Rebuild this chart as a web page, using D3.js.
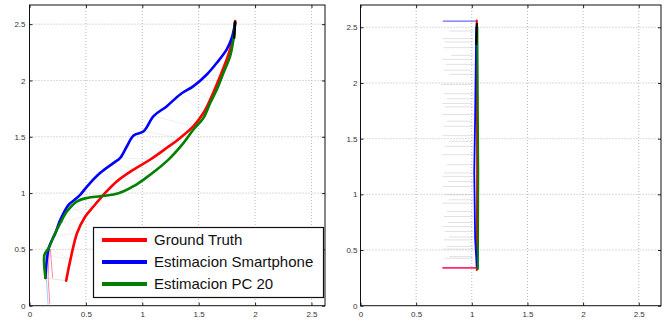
<!DOCTYPE html>
<html><head><meta charset="utf-8">
<script src="https://cdn.jsdelivr.net/npm/d3@7/dist/d3.min.js"></script>
<style>
body{margin:0;background:#fff;}
svg{display:block;font-family:"Liberation Sans",Arial,sans-serif;}
</style></head>
<body>
<svg id="c" width="672" height="322"></svg>
<script>
// ---- data ----
const tickValues = [0, 0.5, 1, 1.5, 2, 2.5];
const tickLabels = ["0", "0.5", "1", "1.5", "2", "2.5"];
const legendLabels = ["Ground Truth", "Estimacion Smartphone", "Estimacion PC 20"];
const seriesColors = ["#ff0000", "#0000ff", "#008000"];

// Left panel trajectories [x, y]
const groundTruth = [[0.325,0.222],[0.363,0.409],[0.422,0.646],[0.496,0.794],[0.569,0.883],[0.658,0.987],[0.776,1.105],[0.923,1.209],[1.071,1.298],[1.218,1.402],[1.336,1.49],[1.454,1.594],[1.543,1.713],[1.602,1.83],[1.69,2.038],[1.764,2.231],[1.808,2.394],[1.823,2.527]];
const smartphone = [[0.142,0.246],[0.171,0.513],[0.23,0.646],[0.274,0.764],[0.348,0.898],[0.40,0.94],[0.451,0.987],[0.525,1.076],[0.628,1.18],[0.746,1.268],[0.805,1.313],[0.864,1.416],[0.923,1.511],[1.012,1.549],[1.1,1.683],[1.218,1.772],[1.336,1.876],[1.454,1.95],[1.572,2.053],[1.661,2.157],[1.749,2.276],[1.794,2.379],[1.823,2.513]];
const pc20 = [[0.142,0.246],[0.133,0.453],[0.171,0.513],[0.215,0.616],[0.274,0.735],[0.333,0.838],[0.422,0.927],[0.51,0.957],[0.628,0.972],[0.746,0.987],[0.835,1.016],[0.923,1.061],[1.012,1.12],[1.13,1.209],[1.248,1.313],[1.366,1.446],[1.454,1.564],[1.543,1.668],[1.602,1.8],[1.661,1.92],[1.72,2.068],[1.779,2.216],[1.808,2.364],[1.823,2.513]];
const gtThinA = [[0.18,0.02],[0.165,0.25],[0.175,0.5]];
const gtThinB = [[0.205,0.25],[0.185,0.5]];
const spThin = [[0.165,0.006],[0.15,0.23]];
const blackEnd = [[1.815,2.38],[1.823,2.52]];

// Right panel
const rightGTBase = [[0.74,0.34],[1.045,0.34]];
const rightGT = [[1.045,0.32],[1.048,1.2],[1.045,2.56]];
const rightSPTop = [[0.743,2.556],[1.04,2.556]];
const rightSP = [[1.04,2.5],[1.03,1.7],[1.022,1.2],[1.03,0.6],[1.045,0.35]];
const rightPC = [[1.055,0.33],[1.058,1.2],[1.05,2.5]];
const rightBlack = [[1.04,2.35],[1.045,2.53]];
const rightHorizY = [2.466,2.398,2.368,2.317,2.248,2.212,2.167,2.115,2.077,1.987,1.903,1.858,1.816,1.786,1.716,1.656,1.611,1.527,1.476,1.431,1.356,1.266,1.192,1.161,1.116,1.071,0.996,0.951,0.921,0.846,0.801,0.747,0.711,0.666,0.616,0.591,0.531,0.508,0.441,0.426];
const rightHorizX0 = [0.80,0.74,0.76,0.75,0.82,0.74,0.77,0.75,0.80,0.73,0.75,0.78,0.74,0.76,0.74,0.78,0.75,0.74,0.80,0.76,0.74,0.78,0.75,0.74,0.79,0.74,0.76,0.80,0.74,0.78,0.75,0.79,0.74,0.76,0.80,0.75,0.78,0.74,0.80,0.76];
const rightHorizX1 = [1.02,1.01,1.00,1.02,1.01,1.00,1.02,0.99,1.01,1.00,1.02,1.01,1.00,1.01,1.02,1.00,1.01,1.02,1.00,1.01,1.02,1.00,1.01,1.00,1.02,1.01,1.00,1.02,1.01,1.00,1.02,1.01,1.00,1.01,1.02,1.00,1.01,1.02,1.00,1.01];

// ---- drawing ----
const svg = d3.select("#c");

function panel(x0, x1, y0, y1, xmax, ymax, ylabelRight) {
  const g = svg.append("g");
  const x = d3.scaleLinear().domain([0, xmax]).range([x0, x1]);
  const y = d3.scaleLinear().domain([0, ymax]).range([y1, y0]);
  g.selectAll(".gx").data(tickValues.slice(1)).enter().append("line")
    .attr("x1", d => x(d)).attr("x2", d => x(d)).attr("y1", y0).attr("y2", y1)
    .attr("stroke", "#b8b8b8").attr("stroke-width", 1).attr("stroke-dasharray", "1,2");
  g.selectAll(".gy").data(tickValues.slice(1)).enter().append("line")
    .attr("x1", x0).attr("x2", x1).attr("y1", d => y(d)).attr("y2", d => y(d))
    .attr("stroke", "#b8b8b8").attr("stroke-width", 1).attr("stroke-dasharray", "1,2");
  const fmt = (d) => tickLabels[tickValues.indexOf(d)];
  const ax = g.append("g").attr("transform", `translate(0,${y1})`)
    .call(d3.axisBottom(x).tickValues(tickValues).tickFormat(fmt).tickSizeInner(-3).tickSizeOuter(0).tickPadding(6));
  const ay = g.append("g").attr("transform", `translate(${x0},0)`)
    .call(d3.axisLeft(y).tickValues(tickValues).tickFormat(fmt).tickSizeInner(-3).tickSizeOuter(0).tickPadding(ylabelRight));
  const axt = g.append("g").attr("transform", `translate(0,${y0})`)
    .call(d3.axisTop(x).tickValues(tickValues).tickFormat("").tickSizeInner(-3).tickSizeOuter(0));
  const ayr = g.append("g").attr("transform", `translate(${x1},0)`)
    .call(d3.axisRight(y).tickValues(tickValues).tickFormat("").tickSizeInner(-3).tickSizeOuter(0));
  [ax, ay, axt, ayr].forEach(a => {
    a.select(".domain").remove();
    a.selectAll("line").attr("stroke", "#222");
    a.selectAll("text").attr("font-size", 8).attr("fill", "#333");
  });
  g.append("rect").attr("x", x0).attr("y", y0).attr("width", x1 - x0).attr("height", y1 - y0)
    .attr("fill", "none").attr("stroke", "#111").attr("stroke-width", 1);
  return {g, x, y};
}

const L = panel(29.5, 325, 5, 305.7, 2.62, 2.67, 4);
const R = panel(360.5, 661, 5, 305.7, 2.70, 2.70, 3);

function path(p, data, color, w, op, smooth) {
  const line = d3.line().x(d => p.x(d[0])).y(d => p.y(d[1]));
  if (smooth) line.curve(d3.curveCatmullRom.alpha(0.5));
  p.g.append("path").datum(data).attr("d", line).attr("fill", "none")
    .attr("stroke", color).attr("stroke-width", w).attr("stroke-opacity", op == null ? 1 : op)
    .attr("stroke-linejoin", "round").attr("stroke-linecap", "round");
}

// faint connectors between trajectories (left)
const nR = groundTruth.length;
const conns = [];
groundTruth.forEach((d, i) => {
  const b = smartphone[Math.round(i * (smartphone.length - 1) / (nR - 1))];
  const c = pc20[Math.round(i * (pc20.length - 1) / (nR - 1))];
  conns.push([d, b]); conns.push([d, c]);
});
conns.forEach(s => path(L, s, "#aaa", 0.6, 0.3));
path(L, gtThinA, "#ff6a8a", 1, 0.8);
path(L, gtThinB, "#ff6a8a", 1, 0.8);
path(L, spThin, "#66aaff", 1, 0.6);
path(L, groundTruth, seriesColors[0], 2.6, 1, true);
path(L, smartphone, seriesColors[1], 2.6, 1, true);
path(L, pc20, seriesColors[2], 2.6, 1, true);
path(L, blackEnd, "#000", 2.5);

// right panel
rightHorizY.forEach((yy, i) => path(R, [[rightHorizX0[i], yy], [rightHorizX1[i], yy]], "#999", 0.6, 0.5));
path(R, rightSPTop, "#6a6aff", 1.2);
path(R, rightGTBase, "#ff2a6a", 1.6);
path(R, rightGT, seriesColors[0], 2);
path(R, rightSP, seriesColors[1], 1.8);
path(R, rightPC, seriesColors[2], 2);
path(R, rightBlack, "#000", 2.2);

// legend
const lg = svg.append("g");
lg.append("rect").attr("x", 93.5).attr("y", 227.5).attr("width", 230).attr("height", 70)
  .attr("fill", "#fff").attr("stroke", "#111").attr("stroke-width", 1.2);
legendLabels.forEach((t, i) => {
  const cy = 240 + i * 22;
  lg.append("line").attr("x1", 102).attr("x2", 147).attr("y1", cy).attr("y2", cy)
    .attr("stroke", seriesColors[i]).attr("stroke-width", 4);
  lg.append("text").attr("x", 154).attr("y", cy + 5).attr("font-size", 15).attr("fill", "#111").text(t);
});
</script>
</body></html>
